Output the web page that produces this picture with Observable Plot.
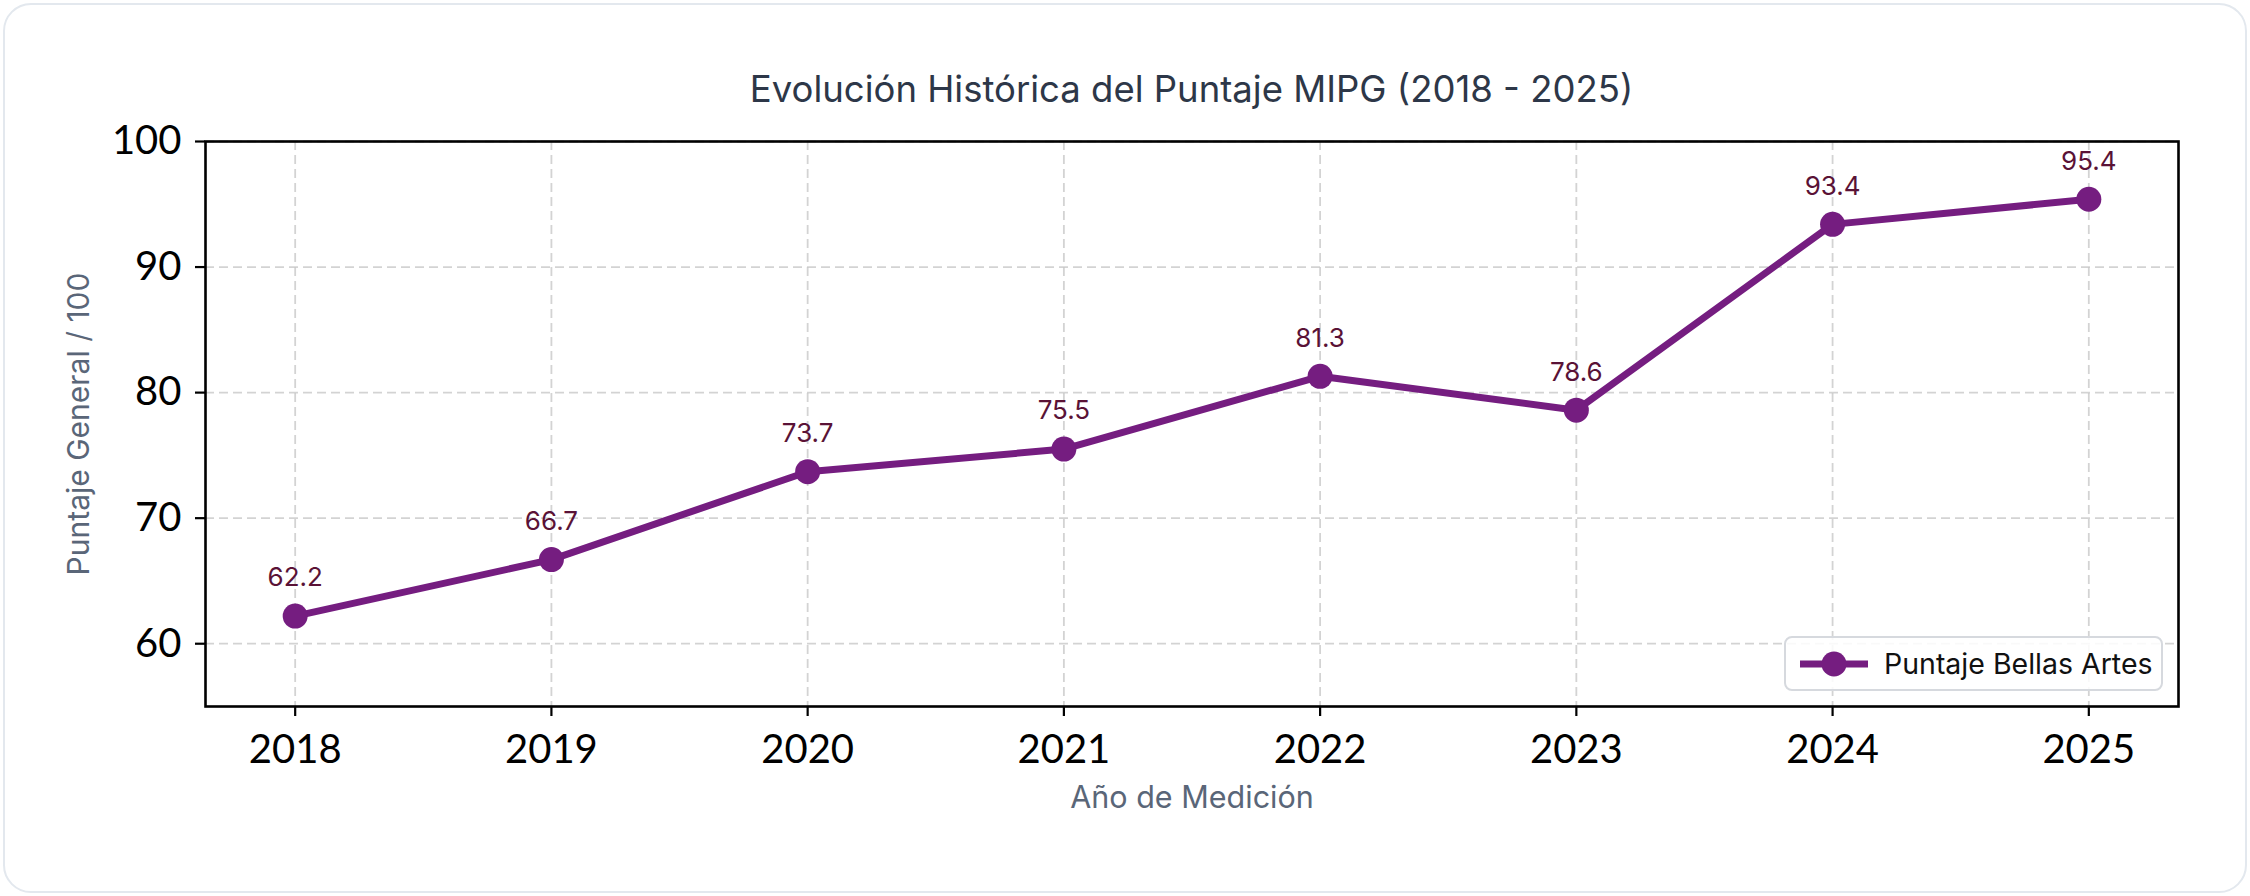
<!DOCTYPE html>
<html>
<head>
<meta charset="utf-8">
<script src="https://cdn.jsdelivr.net/npm/d3@7"></script>
<script src="https://cdn.jsdelivr.net/npm/@observablehq/plot@0.6"></script>
<style>
  html, body { margin: 0; padding: 0; background: #ffffff; }
  #wrap { position: relative; width: 2250px; height: 896px; overflow: hidden; background: #fff; }
  #card { position: absolute; left: 3px; top: 3px; width: 2240px; height: 886px; border: 2px solid #e3e8ee; border-radius: 28px; box-sizing: content-box; }
  #title { position: absolute; left: 205px; width: 1973px; top: 64px; text-align: center; font-family: Inter, "Noto Sans", sans-serif; font-size: 36.5px; color: #2d3748; line-height: 50px; }
  #chart { position: absolute; left: 0; top: 120px; }
  #legend { position: absolute; left: 1784px; top: 636px; width: 379px; height: 55px; border: 2px solid #d6d9de; border-radius: 8px; background: rgba(255,255,255,0.85); display: flex; align-items: center; box-sizing: border-box; font-family: Inter, "Noto Sans", sans-serif; font-size: 28.5px; color: #111; }
  #legend svg { margin-left: 12px; margin-right: 14px; }
</style>
</head>
<body>
<div id="wrap">
  <div id="card"></div>
  <div id="title"></div>
  <div id="chart"></div>
  <div id="legend"></div>
</div>
<script>
const years = [2018, 2019, 2020, 2021, 2022, 2023, 2024, 2025];
const scores = [62.2, 66.7, 73.7, 75.5, 81.3, 78.6, 93.4, 95.4];
const yTicks = [60, 70, 80, 90, 100];
const titleText = "Evolución Histórica del Puntaje MIPG (2018 - 2025)";
const xLabel = "Año de Medición";
const yLabel = "Puntaje General / 100";
const seriesName = "Puntaje Bellas Artes";

const lineColor = "#751d80";
const labelColor = "#5a1236";

const data = years.map((y, i) => ({year: y, score: scores[i]}));

document.getElementById("title").textContent = titleText;

const chart = Plot.plot({
  width: 2250,
  height: 700,
  marginTop: 21,
  marginBottom: 114,
  marginLeft: 205,
  marginRight: 72,
  style: {fontFamily: "Lato, Inter, sans-serif", background: "transparent", overflow: "visible"},
  x: {domain: [2017.65, 2025.35]},
  y: {domain: [55, 100]},
  marks: [
    Plot.gridX(years, {stroke: "#c8c8c8", strokeOpacity: 0.8, strokeWidth: 1.8, strokeDasharray: "9,5"}),
    Plot.gridY(yTicks, {stroke: "#c8c8c8", strokeOpacity: 0.8, strokeWidth: 1.8, strokeDasharray: "9,5"}),
    Plot.axisX(years, {tickFormat: d => String(d), tickSize: 10, tickPadding: 18, fontSize: 40, stroke: "#000", strokeWidth: 2.2, fill: "#000", label: null}),
    Plot.axisY(yTicks, {tickFormat: d => String(d), tickSize: 10, tickPadding: 14, fontSize: 40, stroke: "#000", strokeWidth: 2.2, fill: "#000", label: null}),
    Plot.frame({stroke: "#000", strokeWidth: 2.6}),
    Plot.line(data, {x: "year", y: "score", stroke: lineColor, strokeWidth: 7}),
    Plot.dot(data, {x: "year", y: "score", r: 12.5, fill: lineColor, stroke: "none"}),
    Plot.text(data, {x: "year", y: "score", text: d => d.score.toFixed(1), dy: -38, fill: labelColor, fontSize: 26, fontFamily: "Inter, sans-serif"}),
    Plot.text([xLabel], {frameAnchor: "bottom", dy: 101, fill: "#5a6678", fontSize: 30.5, fontFamily: "Inter, sans-serif"}),
    Plot.text([yLabel], {frameAnchor: "left", dx: -126, rotate: -90, textAnchor: "middle", fill: "#5a6678", fontSize: 30, fontFamily: "Inter, sans-serif"})
  ]
});
document.getElementById("chart").appendChild(chart);

document.getElementById("legend").innerHTML =
  `<svg width="72" height="30"><line x1="2" y1="15" x2="70" y2="15" stroke="${lineColor}" stroke-width="7"/><circle cx="36" cy="15" r="12.5" fill="${lineColor}"/></svg><span>${seriesName}</span>`;
</script>
</body>
</html>
